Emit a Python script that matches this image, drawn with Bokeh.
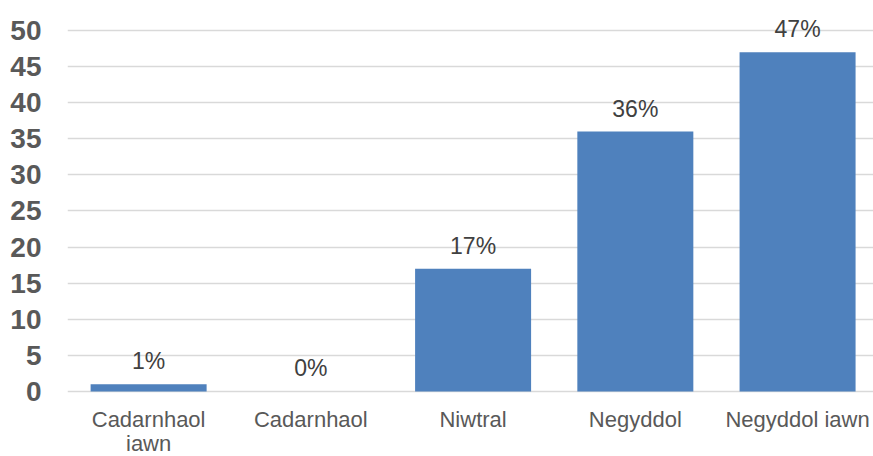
from bokeh.plotting import figure
from bokeh.models import FixedTicker, Range1d, ColumnDataSource
from bokeh.core.properties import value
from bokeh.embed import file_html
from bokeh.resources import INLINE

# Response categories and their share of answers (%)
categories = ["Cadarnhaol\niawn", "Cadarnhaol", "Niwtral", "Negyddol", "Negyddol iawn"]
percentages = [1, 0, 17, 36, 47]
y_ticks = [0, 5, 10, 15, 20, 25, 30, 35, 40, 45, 50]

positions = list(range(len(categories)))
labels = [f"{v}%" for v in percentages]

source = ColumnDataSource(data=dict(x=positions, top=percentages, label=labels,
                                    base=[0] * len(categories), name=categories))

# the frame runs down to the bottom edge so the category names below zero stay visible
p = figure(
    width=873, height=456,
    output_backend="svg", toolbar_location=None,
    x_range=Range1d(-0.5, 4.468), y_range=Range1d(-9.003, 54.155),
    min_border_left=67, min_border_right=0, min_border_top=0, min_border_bottom=0,
)
p.background_fill_color = "white"
p.border_fill_color = "white"
p.outline_line_color = None

p.vbar(x="x", top="top", width=0.715, bottom=0, source=source,
       fill_color="#4F81BD", line_color=None)

# value labels above the bars
p.text(x="x", y="top", text="label", source=source,
       text_align="center", text_baseline="alphabetic", y_offset=-23,
       text_font=value("Liberation Sans"), text_font_size="23px",
       text_color="#404040")

# category names under the baseline
p.text(x="x", y="base", text="name", source=source,
       text_align="center", text_baseline="top", y_offset=16,
       text_font=value("Liberation Sans"), text_font_size="22px",
       text_line_height=0.95, text_color="#595959")

# y axis: bold grey numbers, no line or ticks
p.yaxis.ticker = FixedTicker(ticks=y_ticks)
p.yaxis.axis_line_color = None
p.yaxis.major_tick_line_color = None
p.yaxis.minor_tick_line_color = None
p.yaxis.major_label_text_font = "Liberation Sans"
p.yaxis.major_label_text_font_style = "bold"
p.yaxis.major_label_text_font_size = "28px"
p.yaxis.major_label_text_color = "#595959"
p.yaxis.major_label_standoff = 20

p.xaxis.visible = False
p.xgrid.grid_line_color = None
p.ygrid.ticker = FixedTicker(ticks=y_ticks)
p.ygrid.grid_line_color = "#D9D9D9"
p.ygrid.grid_line_width = 1.5

open("out.html", "w").write(file_html(p, INLINE))
